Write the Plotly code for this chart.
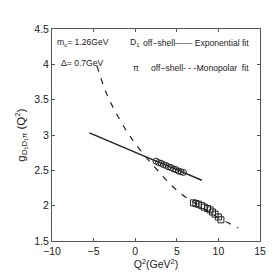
import plotly.graph_objects as go

# Exponential fit (solid) read points
exp_x = [-5.5, -2.0, 1.0, 2.5, 5.0, 8.0]
exp_y = [3.03, 2.85, 2.70, 2.63, 2.51, 2.36]

# Monopolar fit (dashed) read points
mono_x = [-4.6, -3.5, -2.3, -1.0, 0.0, 1.5, 3.0, 4.6, 6.2, 8.0, 10.0, 12.4]
mono_y = [3.98, 3.60, 3.31, 3.05, 2.88, 2.66, 2.46, 2.26, 2.11, 1.98, 1.83, 1.685]

# D1 off-shell (circles)
circ_x = [2.5, 2.8, 3.1, 3.4, 3.7, 4.0, 4.3, 4.6, 4.9, 5.2, 5.5, 5.8]
circ_y = [2.63, 2.61, 2.60, 2.58, 2.57, 2.55, 2.54, 2.52, 2.51, 2.49, 2.48, 2.47]

# pi off-shell (squares)
sq_x = [7.0, 7.3, 7.6, 8.0, 8.3, 8.7, 9.0, 9.3, 9.6, 10.0, 10.3]
sq_y = [2.04, 2.03, 2.02, 2.00, 1.98, 1.96, 1.94, 1.91, 1.88, 1.84, 1.80]

x_ticks = [-10, -5, 0, 5, 10, 15]
x_labels = ["\u221210", "\u22125", "0", "5", "10", "15"]
y_ticks = [1.5, 2, 2.5, 3, 3.5, 4, 4.5]
y_labels = ["1.5", "2", "2.5", "3", "3.5", "4", "4.5"]

FONT = "Liberation Sans, Arial, sans-serif"

fig = go.Figure()
fig.add_trace(go.Scatter(x=exp_x, y=exp_y, mode="lines",
                         line=dict(color="#222", width=1.5), showlegend=False))
fig.add_trace(go.Scatter(x=mono_x, y=mono_y, mode="lines", line_shape="spline",
                         line=dict(color="#222", width=1.2, dash="6px,7px"), showlegend=False))
fig.add_trace(go.Scatter(x=circ_x, y=circ_y, mode="markers",
                         marker=dict(symbol="circle-open", size=6, color="#222",
                                     line=dict(width=1)), showlegend=False))
fig.add_trace(go.Scatter(x=sq_x, y=sq_y, mode="markers",
                         marker=dict(symbol="square-open", size=6, color="#222",
                                     line=dict(width=1)), showlegend=False))

axis_common = dict(showline=True, linecolor="#555", linewidth=1, mirror="ticks",
                   ticks="inside", ticklen=3, tickcolor="#555", showgrid=False,
                   zeroline=False, tickfont=dict(family=FONT, size=10.5, color="#222"))

fig.update_xaxes(range=[-10, 15], tickvals=x_ticks, ticktext=x_labels,
                 title=dict(text="Q<sup>2</sup>(GeV<sup>2</sup>)", font=dict(family=FONT, size=10.5, color="#222"),
                            standoff=4), **axis_common)
fig.update_yaxes(range=[1.5, 4.5], tickvals=y_ticks, ticktext=y_labels,
                 title=dict(text="g<sub>D\u2081D\u2081\u03c0</sub> (Q<sup>2</sup>)",
                            font=dict(family=FONT, size=11.5, color="#222"), standoff=6),
                 **axis_common)

ann_font = dict(family=FONT, size=8.6, color="#222")


def txt(x, y, s, anchor="left"):
    fig.add_annotation(xref="paper", yref="paper", x=x, y=y, xanchor=anchor, yanchor="middle",
                       text=s, showarrow=False, font=ann_font, borderpad=0)


txt(0.02, 0.934, "m<sub>c</sub>= 1.26GeV")
txt(0.037, 0.84, "\u0394= 0.7GeV")
txt(0.37, 0.934, "D<sub>1</sub>")
txt(0.95, 0.934, "off\u2212shell\u2014\u2014 Exponential fit", "right")
txt(0.385, 0.816, "\u03c0")
txt(0.952, 0.816, "off\u2212shell- - -Monopolar  fit", "right")

fig.update_layout(width=278, height=273, margin=dict(l=37, r=26, t=21, b=40),
                  paper_bgcolor="white", plot_bgcolor="white")

fig.write_html("out.html")
